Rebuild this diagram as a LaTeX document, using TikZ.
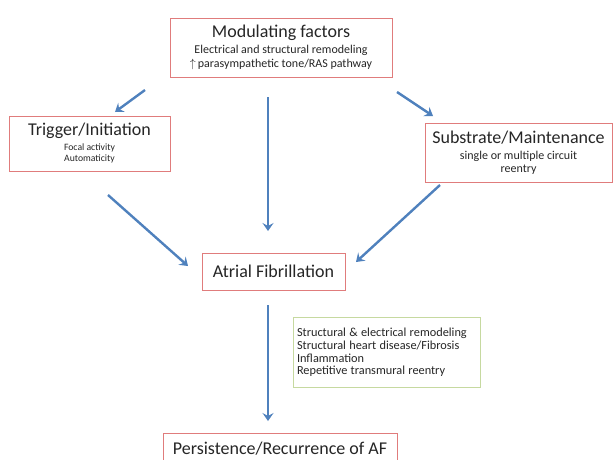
\documentclass[tikz,border=0pt]{standalone}
\usepackage{fontspec}
\setmainfont{Carlito}
\usetikzlibrary{arrows.meta}
\definecolor{arrblue}{HTML}{4F81BD}
\definecolor{boxred}{HTML}{E07C7C}
\definecolor{boxgreen}{HTML}{C6D9A0}
\definecolor{txt}{HTML}{262626}
\tikzset{
  px/.style={x=1pt,y=-1pt},
  redbox/.style={draw=boxred, line width=1pt, fill=white, align=center, inner sep=0pt, text=txt},
  greenbox/.style={draw=boxgreen, line width=0.8pt, fill=white, align=left, inner sep=0pt, text=txt},
  conn/.style={draw=arrblue, line width=2.4pt, -{Stealth[length=8pt,width=11pt,inset=3pt]}},
}
\newcommand{\ttl}[1]{{\fontsize{18}{20}\selectfont #1}}
\newcommand{\sub}[1]{{\fontsize{12}{13.5}\selectfont #1}}
\begin{document}
\begin{tikzpicture}[px]
\useasboundingbox (0,0) rectangle (613,459);
\clip (0,0) rectangle (613,459);
\fill[white] (0,0) rectangle (613,459);

\node[redbox, minimum width=222pt, minimum height=59pt] (mod) at (281,47.5)
  {\ttl{Modulating factors}\\[4pt]
   \sub{Electrical and structural remodeling}\\[2pt]
   \sub{$\uparrow$\,parasympathetic tone/RAS pathway}};

\node[redbox, minimum width=161pt, minimum height=55pt] (trig) at (89.5,143.5)
  {\ttl{Trigger/Initiation}\\[3pt]
   {\fontsize{9.7}{11}\selectfont Focal activity}\\[-1pt]
   {\fontsize{9.7}{11}\selectfont Automaticity}};

\node[redbox, minimum width=187pt, minimum height=59pt] (subs) at (518.5,152.5)
  {\ttl{Substrate/Maintenance}\\[4pt]
   \sub{single or multiple circuit}\\[1pt]
   \sub{reentry}};

\node[redbox, minimum width=143pt, minimum height=37pt] (af) at (273.5,271.5)
  {\ttl{Atrial Fibrillation}};

\node[greenbox, minimum width=187pt, minimum height=70pt, text width=179pt] (fac) at (386.5,352)
  {\fontsize{12.3}{13.2}\selectfont Structural \& electrical remodeling\\
   Structural heart disease/Fibrosis\\
   Inflammation\\
   Repetitive transmural reentry};

\node[redbox, minimum width=234pt, minimum height=30pt, anchor=north] (pers) at (280,433)
  {\ttl{Persistence/Recurrence of AF}};

\coordinate (m1s) at (145,90);   \coordinate (m1e) at (115,112);
\coordinate (m2s) at (397,92);   \coordinate (m2e) at (433,116);
\coordinate (m3s) at (268,97);   \coordinate (m3e) at (268,231);
\coordinate (t1s) at (108,195);  \coordinate (t1e) at (188,266);
\coordinate (s1s) at (440,185);  \coordinate (s1e) at (356,262);
\coordinate (a1s) at (268,305);  \coordinate (a1e) at (268,421);

\draw[conn] (m1s) -- (m1e);
\draw[conn] (m2s) -- (m2e);
\draw[conn] (m3s) -- (m3e);
\draw[conn] (t1s) -- (t1e);
\draw[conn] (s1s) -- (s1e);
\draw[conn] (a1s) -- (a1e);
\end{tikzpicture}
\end{document}
